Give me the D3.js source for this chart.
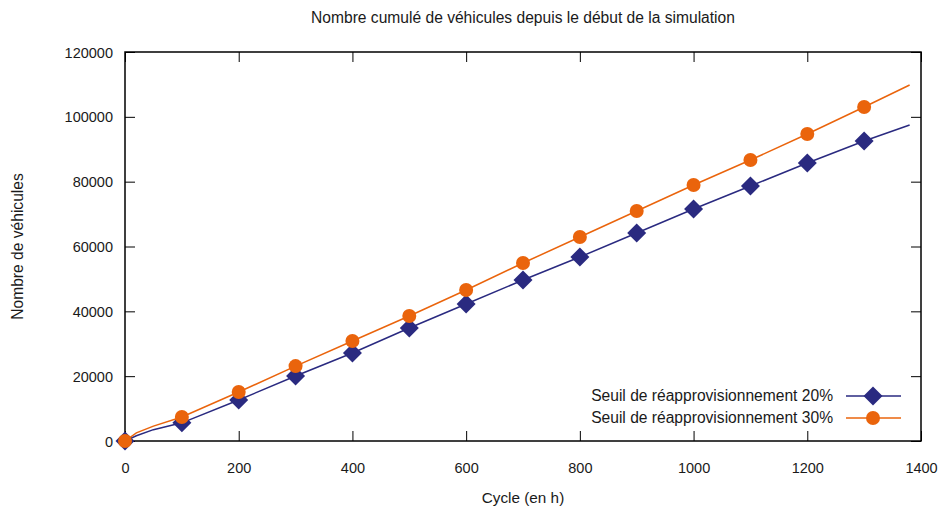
<!DOCTYPE html>
<html><head><meta charset="utf-8">
<script src="https://cdn.jsdelivr.net/npm/d3@7"></script>
<style>body{margin:0;background:#fff}svg{display:block}text{font-family:"Liberation Sans",Arial,sans-serif;fill:#1a1a1a}</style>
</head><body>
<script>
const title = "Nombre cumulé de véhicules depuis le début de la simulation";
const xLabel = "Cycle (en h)";
const yLabel = "Nombre de véhicules";
const xTicks = [0,200,400,600,800,1000,1200,1400];
const yTicks = [0,20000,40000,60000,80000,100000,120000];
const cycles = [0,20,50,100,200,300,400,500,600,700,800,900,1000,1100,1200,1300,1380];
const seuil20 = [0,1600,3500,5600,12650,20050,27150,34860,42260,49670,56760,64160,71570,78660,85760,92540,97480];
const seuil30 = [0,2500,4600,7400,15100,23100,30850,38560,46580,54900,62930,70950,78970,86680,94700,103030,109820];
const seriesNames = ["Seuil de réapprovisionnement 20%","Seuil de réapprovisionnement 30%"];
const colors = ["#2a2a80","#ea640c"];

const W=939,H=511, L=125,R=921,T=52,B=441;
const svg=d3.select("body").append("svg").attr("width",W).attr("height",H);
const x=d3.scaleLinear().domain([0,1400]).range([L,R]);
const y=d3.scaleLinear().domain([0,120000]).range([B,T]);
const fs=14.5, tl=10, fsBig=15.6;

svg.append("text").attr("x",(L+R)/2).attr("y",23).attr("text-anchor","middle").style("font-size",fsBig+"px").text(title);
svg.append("text").attr("x",(L+R)/2).attr("y",503).attr("text-anchor","middle").style("font-size","15.3px").text(xLabel);
svg.append("text").attr("transform",`translate(23,${(T+B)/2}) rotate(-90)`).attr("text-anchor","middle").style("font-size",fsBig+"px").text(yLabel);

// axes with inward ticks, mirrored
const gx=svg.append("g").attr("transform",`translate(0,${B})`).call(d3.axisBottom(x).tickValues(xTicks).tickSizeInner(-tl).tickSizeOuter(0).tickFormat(d3.format("d")));
const gx2=svg.append("g").attr("transform",`translate(0,${T})`).call(d3.axisTop(x).tickValues(xTicks).tickSizeInner(-tl).tickSizeOuter(0).tickFormat(""));
const gy=svg.append("g").attr("transform",`translate(${L},0)`).call(d3.axisLeft(y).tickValues(yTicks).tickSizeInner(-tl).tickSizeOuter(0).tickFormat(d3.format("d")));
const gy2=svg.append("g").attr("transform",`translate(${R},0)`).call(d3.axisRight(y).tickValues(yTicks).tickSizeInner(-tl).tickSizeOuter(0).tickFormat(""));
[gx,gx2,gy,gy2].forEach(g=>{g.select(".domain").remove();g.selectAll("line").attr("stroke","#000").attr("stroke-width",1);g.selectAll("text").style("font-size",fs+"px").style("font-family","Liberation Sans, Arial, sans-serif").attr("fill","#1a1a1a");});
gx.selectAll("text").attr("dy","0").attr("y",32);
gy.selectAll("text").attr("x",-12).attr("dy","0.35em");
svg.append("rect").attr("x",L).attr("y",T).attr("width",R-L).attr("height",B-T).attr("fill","none").attr("stroke","#000").attr("stroke-width",1.5);

const line=d3.line().x(d=>x(d[0])).y(d=>y(d[1]));
const sets=[seuil20,seuil30];
const diamond=(s)=>`M0,${-s}L${s},0L0,${s}L${-s},0Z`;
sets.forEach((vals,i)=>{
  const pts=cycles.map((c,k)=>[c,vals[k]]);
  svg.append("path").datum(pts).attr("d",line).attr("fill","none").attr("stroke",colors[i]).attr("stroke-width",1.5);
  const mk=pts.filter(p=>p[0]%100===0);
  mk.forEach(p=>{
    if(i===0) svg.append("path").attr("d",diamond(9.5)).attr("transform",`translate(${x(p[0])},${y(p[1])})`).attr("fill",colors[i]);
    else svg.append("circle").attr("cx",x(p[0])).attr("cy",y(p[1])).attr("r",7).attr("fill",colors[i]);
  });
});
// legend
const ly=[396,418];
seriesNames.forEach((n,i)=>{
  svg.append("text").attr("x",833).attr("y",ly[i]).attr("dy","0.35em").attr("text-anchor","end").style("font-size",fsBig+"px").text(n);
  svg.append("line").attr("x1",846).attr("x2",901).attr("y1",ly[i]).attr("y2",ly[i]).attr("stroke",colors[i]).attr("stroke-width",1.5);
  if(i===0) svg.append("path").attr("d",diamond(9.5)).attr("transform",`translate(873,${ly[i]})`).attr("fill",colors[i]);
  else svg.append("circle").attr("cx",873).attr("cy",ly[i]).attr("r",7).attr("fill",colors[i]);
});
</script>
</body></html>
